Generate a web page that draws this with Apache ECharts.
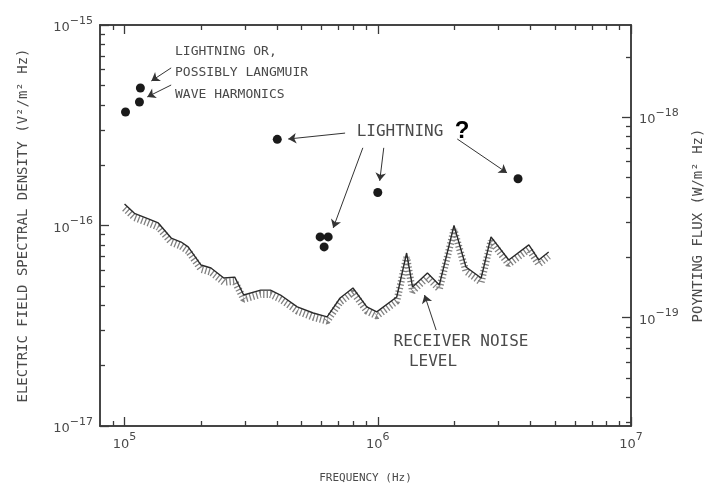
<!DOCTYPE html>
<html>
<head>
<meta charset="utf-8">
<script src="https://cdn.jsdelivr.net/npm/echarts@6/dist/echarts.min.js"></script>
<style>html,body{margin:0;padding:0;background:#fff}#c{width:707px;height:489px}</style>
</head>
<body>
<div id="c"></div>
<script>
// ---- data ----
const noiseFreq = [1.00e5, 1.094e5, 1.242e5, 1.359e5, 1.528e5, 1.673e5, 1.783e5, 2.005e5, 2.194e5, 2.466e5, 2.724e5, 2.956e5, 3.447e5, 3.77e5, 4.13e5, 4.81e5, 5.56e5, 6.31e5, 7.10e5, 7.98e5, 9.05e5, 9.91e5, 1.188e6, 1.30e6, 1.372e6, 1.571e6, 1.75e6, 2.00e6, 2.23e6, 2.56e6, 2.80e6, 3.29e6, 3.95e6, 4.32e6, 4.73e6];
const noiseE = [1.28e-16, 1.15e-16, 1.08e-16, 1.03e-16, 8.66e-17, 8.27e-17, 7.82e-17, 6.35e-17, 6.14e-17, 5.47e-17, 5.53e-17, 4.50e-17, 4.76e-17, 4.76e-17, 4.50e-17, 3.93e-17, 3.66e-17, 3.50e-17, 4.35e-17, 4.88e-17, 3.93e-17, 3.71e-17, 4.40e-17, 7.29e-17, 4.93e-17, 5.79e-17, 5.05e-17, 1.00e-16, 6.21e-17, 5.47e-17, 8.77e-17, 6.73e-17, 8.00e-17, 6.73e-17, 7.38e-17];
const dotFreq = [1.009e5, 1.145e5, 1.155e5, 4.01e5, 5.92e5, 6.37e5, 6.14e5, 1.0e6, 3.58e6];
const dotE = [3.68e-16, 4.13e-16, 4.85e-16, 2.69e-16, 8.77e-17, 8.77e-17, 7.82e-17, 1.46e-16, 1.71e-16];
// annotation arrows: [tailFreq, tailE, headFreq, headE]
const arrows = [
  [1.528e5, 6.11e-16, 1.276e5, 5.26e-16],
  [1.528e5, 5.02e-16, 1.23e5, 4.38e-16],
  [7.43e5, 2.89e-16, 4.43e5, 2.70e-16],
  [8.73e5, 2.44e-16, 6.67e5, 9.73e-17],
  [1.056e6, 2.44e-16, 1.018e6, 1.67e-16],
  [2.06e6, 2.70e-16, 3.24e6, 1.83e-16],
  [1.70e6, 3.01e-17, 1.53e6, 4.50e-17]
];
const xMajor = [1e5, 1e6, 1e7];
const xMinor = [9e4, 2e5, 3e5, 4e5, 5e5, 6e5, 7e5, 8e5, 9e5, 2e6, 3e6, 4e6, 5e6, 6e6, 7e6, 8e6, 9e6];
const eMajor = [1e-17, 1e-16, 1e-15];
const eMinor = [2e-17, 3e-17, 4e-17, 5e-17, 6e-17, 7e-17, 8e-17, 9e-17, 2e-16, 3e-16, 4e-16, 5e-16, 6e-16, 7e-16, 8e-16, 9e-16];
const pMajor = [1e-19, 1e-18];
const pMinor = [3e-20, 4e-20, 5e-20, 6e-20, 7e-20, 8e-20, 9e-20, 2e-19, 3e-19, 4e-19, 5e-19, 6e-19, 7e-19, 8e-19, 9e-19, 2e-18];
const xRange = [8e4, 1e7];
const eRange = [1e-17, 1e-15];
const pRange = [2.88e-20, 2.88e-18];

// ---- chart ----
const AX = '#3a3a3a', TXT = '#4a4a4a';
const MONO = 'DejaVu Sans Mono';
function expLabel(v) {
  const e = Math.round(Math.log10(v));
  return '{b|10}{s|' + String(e).replace('-', '\u2212') + '}';
}
const richLab = {
  b: { fontFamily: 'DejaVu Sans', fontSize: 13, color: TXT, lineHeight: 19, verticalAlign: 'bottom' },
  s: { fontFamily: 'DejaVu Sans', fontSize: 11, color: TXT, lineHeight: 12, verticalAlign: 'top' }
};
function logAxis(extra, range, ticks, len, labels) {
  return Object.assign({
    type: 'log', logBase: 10, min: range[0], max: range[1],
    splitLine: { show: false },
    axisLine: { show: true, lineStyle: { color: AX, width: 1.5 } },
    axisTick: { show: true, inside: true, length: len, customValues: ticks, lineStyle: { color: AX, width: 1.3 } },
    axisLabel: labels ? { show: true, customValues: labels, formatter: expLabel, rich: richLab } : { show: false },
    minorTick: { show: false }
  }, extra);
}
const chart = echarts.init(document.getElementById('c'), null, { renderer: 'canvas' });
const arrowData = arrows.map(a => [{ coord: [a[0], a[1]] }, { coord: [a[2], a[3]] }]);
chart.setOption({
  animation: false,
  backgroundColor: '#fff',
  grid: { left: 100, right: 76, top: 25, bottom: 63, containLabel: false, outerBoundsMode: 'none' },
  xAxis: [
    logAxis({ position: 'bottom', name: 'FREQUENCY (Hz)', nameLocation: 'middle', nameGap: 47,
      nameTextStyle: { fontFamily: MONO, fontSize: 11, color: TXT }, axisLabel: { show: true, customValues: xMajor, formatter: expLabel, rich: richLab, margin: 6 } }, xRange, xMajor, 9, xMajor),
    logAxis({ position: 'bottom' }, xRange, xMinor, 5, null),
    logAxis({ position: 'top' }, xRange, xMajor, 9, null),
    logAxis({ position: 'top' }, xRange, xMinor, 5, null)
  ],
  yAxis: [
    logAxis({ position: 'left', name: 'ELECTRIC FIELD SPECTRAL DENSITY (V\u00b2/m\u00b2 Hz)', nameLocation: 'middle', nameGap: 70, nameRotate: 90,
      nameTextStyle: { fontFamily: MONO, fontSize: 14, color: TXT }, axisLabel: { show: true, customValues: eMajor, formatter: expLabel, rich: richLab, margin: 7 } }, eRange, eMajor, 9, eMajor),
    logAxis({ position: 'left' }, eRange, eMinor, 5, null),
    logAxis({ position: 'right', name: 'POYNTING FLUX (W/m\u00b2 Hz)', nameLocation: 'middle', nameGap: 60, nameRotate: 90,
      nameTextStyle: { fontFamily: MONO, fontSize: 14, color: TXT }, axisLabel: { show: true, customValues: pMajor, formatter: expLabel, rich: richLab, margin: 8 } }, pRange, pMajor, 9, pMajor),
    logAxis({ position: 'right' }, pRange, pMinor, 5, null),
    // hidden axis used to draw the hatching band just below the noise curve
    { type: 'log', min: eRange[0] * 1.05, max: eRange[1] * 1.05, show: false }
  ],
  series: [
    {
      type: 'line', name: 'hatch', xAxisIndex: 0, yAxisIndex: 4,
      data: noiseFreq.map((f, i) => [f, noiseE[i]]),
      showSymbol: false, silent: true, z: 2,
      lineStyle: { color: '#808080', width: 7, type: [1.3, 2.2] }
    },
    {
      type: 'line', name: 'Receiver noise level', xAxisIndex: 0, yAxisIndex: 0,
      data: noiseFreq.map((f, i) => [f, noiseE[i]]),
      showSymbol: false, silent: true, z: 3,
      lineStyle: { color: '#2a2a2a', width: 1.4 }
    },
    {
      type: 'scatter', name: 'Lightning', xAxisIndex: 0, yAxisIndex: 0,
      data: dotFreq.map((f, i) => [f, dotE[i]]),
      symbol: 'circle', symbolSize: 9, itemStyle: { color: '#1a1a1a', opacity: 1 }, silent: true, z: 4,
      markLine: {
        silent: true, symbol: ['none', 'arrow'], symbolSize: 8,
        label: { show: false },
        lineStyle: { color: '#333', width: 1, type: 'solid' },
        emphasis: { disabled: true },
        data: arrowData
      }
    }
  ],
  graphic: [
    { type: 'text', x: 175, y: 52, style: { text: 'LIGHTNING OR,', font: '13px ' + MONO, fill: TXT, verticalAlign: 'middle' } },
    { type: 'text', x: 175, y: 73, style: { text: 'POSSIBLY LANGMUIR', font: '13px ' + MONO, fill: TXT, verticalAlign: 'middle' } },
    { type: 'text', x: 175, y: 95, style: { text: 'WAVE HARMONICS', font: '13px ' + MONO, fill: TXT, verticalAlign: 'middle' } },
    { type: 'text', x: 400, y: 132, style: { text: 'LIGHTNING', font: '16px ' + MONO, fill: TXT, align: 'center', verticalAlign: 'middle' } },
    { type: 'text', x: 462, y: 131, style: { text: '?', font: 'bold 24px Liberation Sans', fill: '#000', align: 'center', verticalAlign: 'middle' } },
    { type: 'text', x: 461, y: 342, style: { text: 'RECEIVER NOISE', font: '16px ' + MONO, fill: TXT, align: 'center', verticalAlign: 'middle' } },
    { type: 'text', x: 433, y: 362, style: { text: 'LEVEL', font: '16px ' + MONO, fill: TXT, align: 'center', verticalAlign: 'middle' } }
  ]
});
</script>
</body>
</html>
